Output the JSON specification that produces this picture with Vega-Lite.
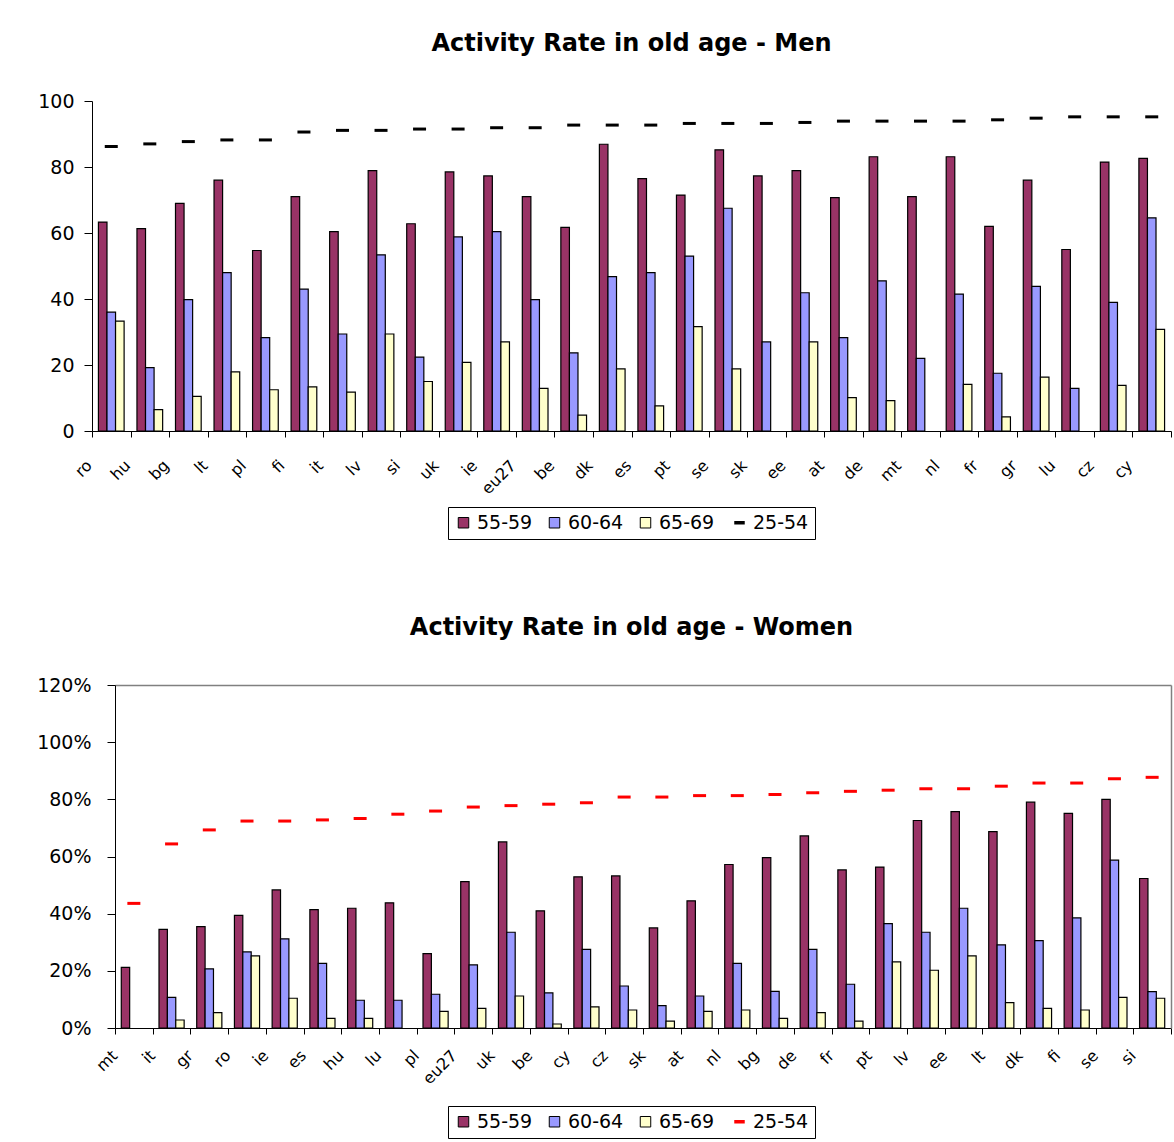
{
  "$schema": "https://vega.github.io/schema/vega-lite/v6.json",
  "padding": {"left": 36, "top": 32, "right": 4, "bottom": 2},
  "spacing": 76,
  "columns": 1,
  "config": {
    "font": "DejaVu Sans",
    "view": {"stroke": null},
    "axis": {"grid": false, "domainColor": "black", "tickColor": "black", "labelColor": "black", "titleColor": "black"},
    "legend": {"labelColor": "black", "layout": {"bottom": {"anchor": "middle"}}}
  },
  "resolve": {"scale": {"color": "independent", "x": "independent", "y": "independent", "xOffset": "independent"}, "legend": {"color": "independent"}},
  "datasets": {
    "men": [
      {"c": "ro", "s": "55-59", "v": 63.3}, {"c": "ro", "s": "60-64", "v": 36.0}, {"c": "ro", "s": "65-69", "v": 33.3}, {"c": "ro", "s": "25-54", "v": 86.2},
      {"c": "hu", "s": "55-59", "v": 61.3}, {"c": "hu", "s": "60-64", "v": 19.2}, {"c": "hu", "s": "65-69", "v": 6.5}, {"c": "hu", "s": "25-54", "v": 87.0},
      {"c": "bg", "s": "55-59", "v": 69.0}, {"c": "bg", "s": "60-64", "v": 39.8}, {"c": "bg", "s": "65-69", "v": 10.5}, {"c": "bg", "s": "25-54", "v": 87.7},
      {"c": "lt", "s": "55-59", "v": 76.0}, {"c": "lt", "s": "60-64", "v": 48.0}, {"c": "lt", "s": "65-69", "v": 17.9}, {"c": "lt", "s": "25-54", "v": 88.2},
      {"c": "pl", "s": "55-59", "v": 54.7}, {"c": "pl", "s": "60-64", "v": 28.3}, {"c": "pl", "s": "65-69", "v": 12.5}, {"c": "pl", "s": "25-54", "v": 88.2},
      {"c": "fi", "s": "55-59", "v": 71.0}, {"c": "fi", "s": "60-64", "v": 43.0}, {"c": "fi", "s": "65-69", "v": 13.4}, {"c": "fi", "s": "25-54", "v": 90.6},
      {"c": "it", "s": "55-59", "v": 60.4}, {"c": "it", "s": "60-64", "v": 29.4}, {"c": "it", "s": "65-69", "v": 11.8}, {"c": "it", "s": "25-54", "v": 91.1},
      {"c": "lv", "s": "55-59", "v": 78.9}, {"c": "lv", "s": "60-64", "v": 53.4}, {"c": "lv", "s": "65-69", "v": 29.4}, {"c": "lv", "s": "25-54", "v": 91.1},
      {"c": "si", "s": "55-59", "v": 62.8}, {"c": "si", "s": "60-64", "v": 22.4}, {"c": "si", "s": "65-69", "v": 15.0}, {"c": "si", "s": "25-54", "v": 91.5},
      {"c": "uk", "s": "55-59", "v": 78.5}, {"c": "uk", "s": "60-64", "v": 58.8}, {"c": "uk", "s": "65-69", "v": 20.8}, {"c": "uk", "s": "25-54", "v": 91.5},
      {"c": "ie", "s": "55-59", "v": 77.3}, {"c": "ie", "s": "60-64", "v": 60.4}, {"c": "ie", "s": "65-69", "v": 27.0}, {"c": "ie", "s": "25-54", "v": 91.9},
      {"c": "eu27", "s": "55-59", "v": 71.0}, {"c": "eu27", "s": "60-64", "v": 39.8}, {"c": "eu27", "s": "65-69", "v": 12.9}, {"c": "eu27", "s": "25-54", "v": 91.9},
      {"c": "be", "s": "55-59", "v": 61.7}, {"c": "be", "s": "60-64", "v": 23.7}, {"c": "be", "s": "65-69", "v": 4.8}, {"c": "be", "s": "25-54", "v": 92.7},
      {"c": "dk", "s": "55-59", "v": 86.9}, {"c": "dk", "s": "60-64", "v": 46.8}, {"c": "dk", "s": "65-69", "v": 18.8}, {"c": "dk", "s": "25-54", "v": 92.7},
      {"c": "es", "s": "55-59", "v": 76.5}, {"c": "es", "s": "60-64", "v": 48.0}, {"c": "es", "s": "65-69", "v": 7.6}, {"c": "es", "s": "25-54", "v": 92.7},
      {"c": "pt", "s": "55-59", "v": 71.5}, {"c": "pt", "s": "60-64", "v": 53.0}, {"c": "pt", "s": "65-69", "v": 31.6}, {"c": "pt", "s": "25-54", "v": 93.2},
      {"c": "se", "s": "55-59", "v": 85.2}, {"c": "se", "s": "60-64", "v": 67.5}, {"c": "se", "s": "65-69", "v": 18.8}, {"c": "se", "s": "25-54", "v": 93.2},
      {"c": "sk", "s": "55-59", "v": 77.3}, {"c": "sk", "s": "60-64", "v": 27.0}, {"c": "sk", "s": "25-54", "v": 93.2},
      {"c": "ee", "s": "55-59", "v": 78.9}, {"c": "ee", "s": "60-64", "v": 41.9}, {"c": "ee", "s": "65-69", "v": 27.0}, {"c": "ee", "s": "25-54", "v": 93.5},
      {"c": "at", "s": "55-59", "v": 70.7}, {"c": "at", "s": "60-64", "v": 28.3}, {"c": "at", "s": "65-69", "v": 10.1}, {"c": "at", "s": "25-54", "v": 93.9},
      {"c": "de", "s": "55-59", "v": 83.1}, {"c": "de", "s": "60-64", "v": 45.5}, {"c": "de", "s": "65-69", "v": 9.2}, {"c": "de", "s": "25-54", "v": 93.9},
      {"c": "mt", "s": "55-59", "v": 71.0}, {"c": "mt", "s": "60-64", "v": 22.0}, {"c": "mt", "s": "25-54", "v": 93.9},
      {"c": "nl", "s": "55-59", "v": 83.1}, {"c": "nl", "s": "60-64", "v": 41.5}, {"c": "nl", "s": "65-69", "v": 14.1}, {"c": "nl", "s": "25-54", "v": 93.9},
      {"c": "fr", "s": "55-59", "v": 62.0}, {"c": "fr", "s": "60-64", "v": 17.5}, {"c": "fr", "s": "65-69", "v": 4.3}, {"c": "fr", "s": "25-54", "v": 94.3},
      {"c": "gr", "s": "55-59", "v": 76.0}, {"c": "gr", "s": "60-64", "v": 43.8}, {"c": "gr", "s": "65-69", "v": 16.3}, {"c": "gr", "s": "25-54", "v": 94.8},
      {"c": "lu", "s": "55-59", "v": 55.0}, {"c": "lu", "s": "60-64", "v": 12.9}, {"c": "lu", "s": "25-54", "v": 95.2},
      {"c": "cz", "s": "55-59", "v": 81.5}, {"c": "cz", "s": "60-64", "v": 39.0}, {"c": "cz", "s": "65-69", "v": 13.8}, {"c": "cz", "s": "25-54", "v": 95.2},
      {"c": "cy", "s": "55-59", "v": 82.6}, {"c": "cy", "s": "60-64", "v": 64.6}, {"c": "cy", "s": "65-69", "v": 30.8}, {"c": "cy", "s": "25-54", "v": 95.2}
    ],
    "women": [
      {"c": "mt", "s": "55-59", "v": 21.2}, {"c": "mt", "s": "25-54", "v": 43.6},
      {"c": "it", "s": "55-59", "v": 34.5}, {"c": "it", "s": "60-64", "v": 10.7}, {"c": "it", "s": "65-69", "v": 2.8}, {"c": "it", "s": "25-54", "v": 64.4},
      {"c": "gr", "s": "55-59", "v": 35.5}, {"c": "gr", "s": "60-64", "v": 20.7}, {"c": "gr", "s": "65-69", "v": 5.4}, {"c": "gr", "s": "25-54", "v": 69.3},
      {"c": "ro", "s": "55-59", "v": 39.4}, {"c": "ro", "s": "60-64", "v": 26.6}, {"c": "ro", "s": "65-69", "v": 25.2}, {"c": "ro", "s": "25-54", "v": 72.4},
      {"c": "ie", "s": "55-59", "v": 48.3}, {"c": "ie", "s": "60-64", "v": 31.2}, {"c": "ie", "s": "65-69", "v": 10.4}, {"c": "ie", "s": "25-54", "v": 72.4},
      {"c": "es", "s": "55-59", "v": 41.4}, {"c": "es", "s": "60-64", "v": 22.6}, {"c": "es", "s": "65-69", "v": 3.4}, {"c": "es", "s": "25-54", "v": 72.8},
      {"c": "hu", "s": "55-59", "v": 41.9}, {"c": "hu", "s": "60-64", "v": 9.7}, {"c": "hu", "s": "65-69", "v": 3.4}, {"c": "hu", "s": "25-54", "v": 73.3},
      {"c": "lu", "s": "55-59", "v": 43.8}, {"c": "lu", "s": "60-64", "v": 9.7}, {"c": "lu", "s": "25-54", "v": 74.8},
      {"c": "pl", "s": "55-59", "v": 26.0}, {"c": "pl", "s": "60-64", "v": 11.8}, {"c": "pl", "s": "65-69", "v": 5.8}, {"c": "pl", "s": "25-54", "v": 75.9},
      {"c": "eu27", "s": "55-59", "v": 51.2}, {"c": "eu27", "s": "60-64", "v": 22.1}, {"c": "eu27", "s": "65-69", "v": 6.9}, {"c": "eu27", "s": "25-54", "v": 77.3},
      {"c": "uk", "s": "55-59", "v": 65.1}, {"c": "uk", "s": "60-64", "v": 33.5}, {"c": "uk", "s": "65-69", "v": 11.2}, {"c": "uk", "s": "25-54", "v": 77.8},
      {"c": "be", "s": "55-59", "v": 41.0}, {"c": "be", "s": "60-64", "v": 12.3}, {"c": "be", "s": "65-69", "v": 1.4}, {"c": "be", "s": "25-54", "v": 78.3},
      {"c": "cy", "s": "55-59", "v": 52.9}, {"c": "cy", "s": "60-64", "v": 27.5}, {"c": "cy", "s": "65-69", "v": 7.4}, {"c": "cy", "s": "25-54", "v": 78.8},
      {"c": "cz", "s": "55-59", "v": 53.2}, {"c": "cz", "s": "60-64", "v": 14.7}, {"c": "cz", "s": "65-69", "v": 6.3}, {"c": "cz", "s": "25-54", "v": 80.8},
      {"c": "sk", "s": "55-59", "v": 35.0}, {"c": "sk", "s": "60-64", "v": 7.8}, {"c": "sk", "s": "65-69", "v": 2.4}, {"c": "sk", "s": "25-54", "v": 80.8},
      {"c": "at", "s": "55-59", "v": 44.5}, {"c": "at", "s": "60-64", "v": 11.2}, {"c": "at", "s": "65-69", "v": 5.8}, {"c": "at", "s": "25-54", "v": 81.3},
      {"c": "nl", "s": "55-59", "v": 57.2}, {"c": "nl", "s": "60-64", "v": 22.6}, {"c": "nl", "s": "65-69", "v": 6.3}, {"c": "nl", "s": "25-54", "v": 81.3},
      {"c": "bg", "s": "55-59", "v": 59.6}, {"c": "bg", "s": "60-64", "v": 12.8}, {"c": "bg", "s": "65-69", "v": 3.4}, {"c": "bg", "s": "25-54", "v": 81.7},
      {"c": "de", "s": "55-59", "v": 67.2}, {"c": "de", "s": "60-64", "v": 27.5}, {"c": "de", "s": "65-69", "v": 5.4}, {"c": "de", "s": "25-54", "v": 82.3},
      {"c": "fr", "s": "55-59", "v": 55.3}, {"c": "fr", "s": "60-64", "v": 15.3}, {"c": "fr", "s": "65-69", "v": 2.4}, {"c": "fr", "s": "25-54", "v": 82.8},
      {"c": "pt", "s": "55-59", "v": 56.3}, {"c": "pt", "s": "60-64", "v": 36.5}, {"c": "pt", "s": "65-69", "v": 23.1}, {"c": "pt", "s": "25-54", "v": 83.2},
      {"c": "lv", "s": "55-59", "v": 72.6}, {"c": "lv", "s": "60-64", "v": 33.5}, {"c": "lv", "s": "65-69", "v": 20.2}, {"c": "lv", "s": "25-54", "v": 83.7},
      {"c": "ee", "s": "55-59", "v": 75.7}, {"c": "ee", "s": "60-64", "v": 41.9}, {"c": "ee", "s": "65-69", "v": 25.2}, {"c": "ee", "s": "25-54", "v": 83.7},
      {"c": "lt", "s": "55-59", "v": 68.7}, {"c": "lt", "s": "60-64", "v": 29.1}, {"c": "lt", "s": "65-69", "v": 8.9}, {"c": "lt", "s": "25-54", "v": 84.6},
      {"c": "dk", "s": "55-59", "v": 79.0}, {"c": "dk", "s": "60-64", "v": 30.6}, {"c": "dk", "s": "65-69", "v": 6.9}, {"c": "dk", "s": "25-54", "v": 85.7},
      {"c": "fi", "s": "55-59", "v": 75.1}, {"c": "fi", "s": "60-64", "v": 38.5}, {"c": "fi", "s": "65-69", "v": 6.3}, {"c": "fi", "s": "25-54", "v": 85.7},
      {"c": "se", "s": "55-59", "v": 80.0}, {"c": "se", "s": "60-64", "v": 58.7}, {"c": "se", "s": "65-69", "v": 10.7}, {"c": "se", "s": "25-54", "v": 87.2},
      {"c": "si", "s": "55-59", "v": 52.3}, {"c": "si", "s": "60-64", "v": 12.7}, {"c": "si", "s": "65-69", "v": 10.4}, {"c": "si", "s": "25-54", "v": 87.7}
    ]
  },
  "concat": [
    {
      "title": {"text": "Activity Rate in old age - Men", "fontSize": 24, "fontWeight": "bold", "color": "black", "offset": 36, "anchor": "middle"},
      "width": 1079,
      "height": 330,
      "data": {"name": "men"},
      "layer": [
        {
          "transform": [{"filter": "datum.s !== '25-54'"}],
          "mark": {"type": "bar", "stroke": "black", "strokeWidth": 1.2},
          "encoding": {
            "x": {"field": "c", "type": "nominal", "sort": null, "scale": {"paddingInner": 0, "paddingOuter": 0},
                  "axis": {"title": null, "labelAngle": -45, "labelAlign": "right", "labelBaseline": "top", "labelFontSize": 16, "labelOffset": -28, "labelPadding": 20, "tickSize": 6, "tickBand": "extent"}},
            "xOffset": {"field": "s", "type": "nominal", "sort": ["55-59", "60-64", "65-69"], "scale": {"paddingInner": 0, "paddingOuter": 0.75}},
            "y": {"field": "v", "type": "quantitative", "scale": {"domain": [0, 100], "nice": false},
                  "axis": {"title": null, "values": [0, 10, 20, 30, 40, 50, 60, 70, 80, 90, 100], "labelFontSize": 19, "labelPadding": 10, "tickSize": 8}},
            "color": {"field": "s", "type": "nominal",
                      "scale": {"domain": ["55-59", "60-64", "65-69", "25-54"], "range": ["#993366", "#9999FF", "#FFFFCC", "#000000"]},
                      "legend": {"title": null, "orient": "bottom", "direction": "horizontal", "strokeColor": "black", "fillColor": "white", "padding": 6, "offset": 10,
                                 "labelFontSize": 19, "symbolSize": 110, "symbolStrokeColor": "black", "symbolStrokeWidth": 1, "symbolOpacity": 1, "columnPadding": 12, "labelOffset": 4, "symbolType": "square",
                                 "encode": {"symbols": {"update": {"shape": {"signal": "datum.value === '25-54' ? 'stroke' : 'square'"}, "strokeWidth": {"signal": "datum.value === '25-54' ? 3.5 : 1"}, "stroke": {"value": "black"}}}}}}
          }
        },
        {
          "transform": [{"filter": "datum.s === '25-54'"}],
          "mark": {"type": "tick", "thickness": 3, "size": 13, "opacity": 1},
          "encoding": {
            "x": {"field": "c", "type": "nominal", "sort": null},
            "y": {"field": "v", "type": "quantitative"},
            "color": {"field": "s", "type": "nominal"}
          }
        }
      ]
    },
    {
      "title": {"text": "Activity Rate in old age - Women", "fontSize": 24, "fontWeight": "bold", "color": "black", "offset": 36, "anchor": "middle"},
      "width": 1079,
      "height": 343,
      "data": {"name": "women"},
      "resolve": {"axis": {"x": "independent", "y": "independent"}},
      "layer": [
        {
          "transform": [{"filter": "datum.s !== '25-54'"}],
          "mark": {"type": "bar", "stroke": "black", "strokeWidth": 1.2},
          "encoding": {
            "x": {"field": "c", "type": "nominal", "sort": null, "scale": {"paddingInner": 0, "paddingOuter": 0, "range": [23, 1079]},
                  "axis": {"orient": "bottom", "title": null, "labelAngle": -45, "labelAlign": "right", "labelBaseline": "top", "labelFontSize": 16, "labelOffset": -25, "labelPadding": 13, "tickSize": 6, "tickBand": "extent"}},
            "xOffset": {"field": "s", "type": "nominal", "sort": ["55-59", "60-64", "65-69"], "scale": {"paddingInner": 0, "paddingOuter": 0.75}},
            "y": {"field": "v", "type": "quantitative", "scale": {"domain": [0, 120], "nice": false},
                  "axis": {"orient": "left", "offset": -23, "title": null, "values": [0, 20, 40, 60, 80, 100, 120], "labelExpr": "datum.value + '%'", "labelFontSize": 19, "labelPadding": 16, "tickSize": 8}},
            "color": {"field": "s", "type": "nominal",
                      "scale": {"domain": ["55-59", "60-64", "65-69", "25-54"], "range": ["#993366", "#9999FF", "#FFFFCC", "#FF0000"]},
                      "legend": {"title": null, "orient": "bottom", "direction": "horizontal", "strokeColor": "black", "fillColor": "white", "padding": 6, "offset": 19,
                                 "labelFontSize": 19, "symbolSize": 110, "symbolStrokeColor": "black", "symbolStrokeWidth": 1, "symbolOpacity": 1, "columnPadding": 12, "labelOffset": 4, "symbolType": "square",
                                 "encode": {"symbols": {"update": {"shape": {"signal": "datum.value === '25-54' ? 'stroke' : 'square'"}, "strokeWidth": {"signal": "datum.value === '25-54' ? 3.5 : 1"}, "stroke": {"signal": "datum.value === '25-54' ? '#FF0000' : 'black'"}}}}}}
          }
        },
        {
          "transform": [{"filter": "datum.s === '25-54'"}],
          "mark": {"type": "tick", "thickness": 3, "size": 13, "opacity": 1},
          "encoding": {
            "x": {"field": "c", "type": "nominal", "sort": null,
                  "axis": {"orient": "top", "title": null, "labels": false, "ticks": false, "domainColor": "#808080", "domainWidth": 1.5}},
            "y": {"field": "v", "type": "quantitative",
                  "axis": {"orient": "right", "title": null, "labels": false, "ticks": false, "domainColor": "#808080", "domainWidth": 1.5}},
            "color": {"field": "s", "type": "nominal"}
          }
        }
      ]
    }
  ]
}
